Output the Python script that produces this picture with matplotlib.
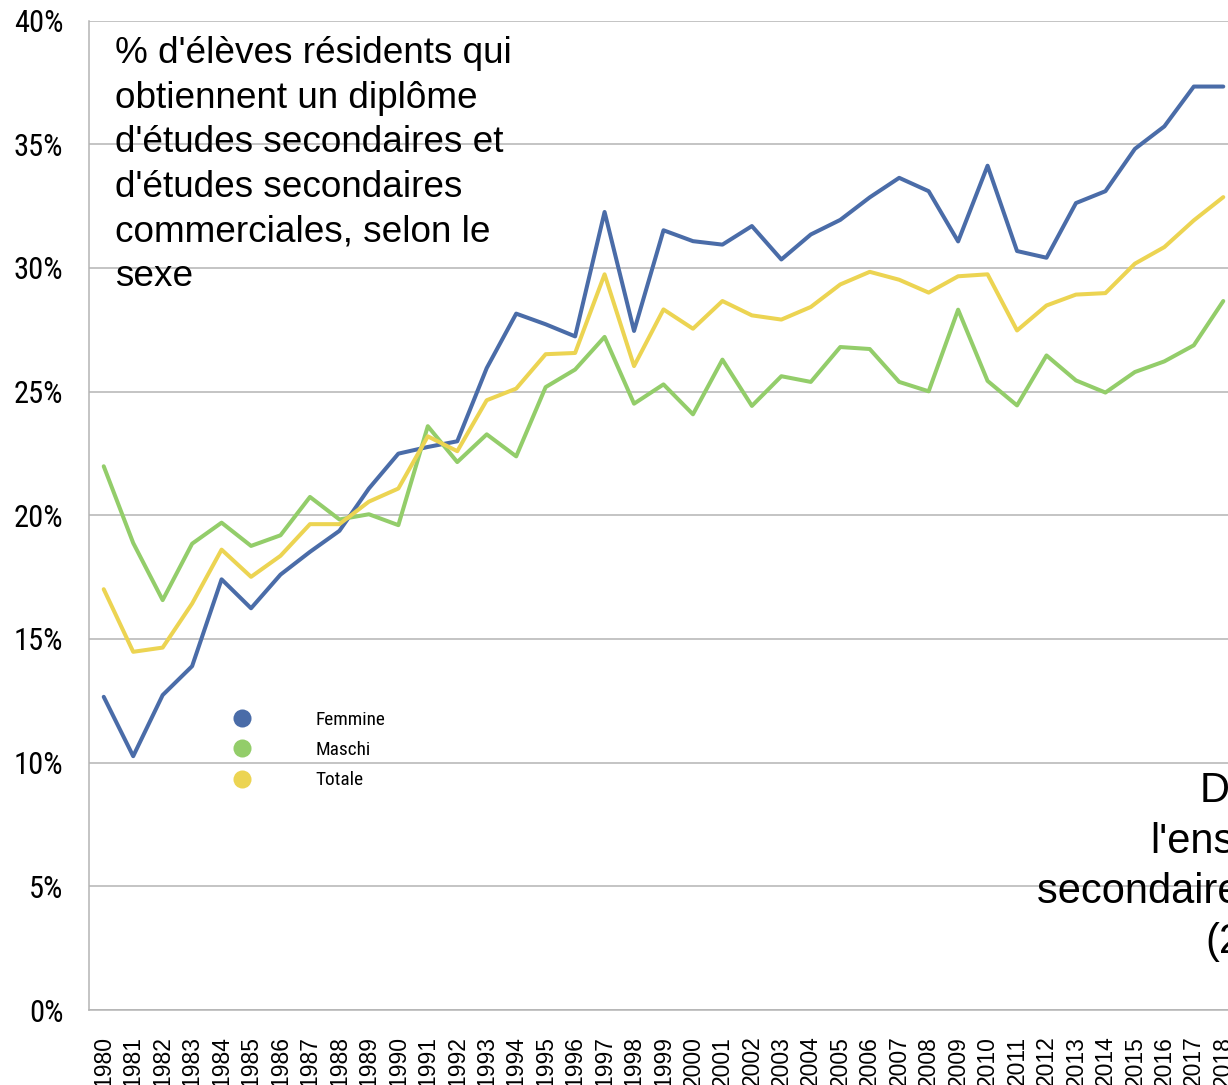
import matplotlib
matplotlib.use("Agg")
import matplotlib.pyplot as plt
from matplotlib import font_manager
from matplotlib.font_manager import FontProperties
from matplotlib.lines import Line2D
from matplotlib.ticker import FuncFormatter

years = [str(y) for y in range(1980, 2019)]

femmine = [12.66, 10.26, 12.73, 13.90, 17.41, 16.24, 17.60, 18.52, 19.37, 21.08,
           22.49, 22.76, 22.99, 25.95, 28.15, 27.72, 27.23, 32.26, 27.45, 31.52,
           31.08, 30.94, 31.69, 30.34, 31.35, 31.94, 32.85, 33.64, 33.10, 31.07,
           34.13, 30.68, 30.41, 32.62, 33.10, 34.81, 35.72, 37.33, 37.33]
maschi = [21.98, 18.88, 16.57, 18.85, 19.70, 18.76, 19.19, 20.74, 19.83, 20.04,
          19.60, 23.60, 22.15, 23.27, 22.38, 25.18, 25.89, 27.21, 24.51, 25.29,
          24.08, 26.29, 24.42, 25.62, 25.39, 26.80, 26.72, 25.39, 25.01, 28.31,
          25.43, 24.44, 26.46, 25.45, 24.96, 25.79, 26.22, 26.87, 28.66]
totale = [17.01, 14.48, 14.65, 16.43, 18.61, 17.51, 18.36, 19.64, 19.64, 20.55,
          21.08, 23.19, 22.59, 24.65, 25.12, 26.51, 26.56, 29.74, 26.03, 28.32,
          27.54, 28.66, 28.08, 27.91, 28.42, 29.33, 29.84, 29.52, 29.00, 29.66,
          29.74, 27.47, 28.48, 28.92, 28.98, 30.17, 30.84, 31.92, 32.86]

series_names = ["Femmine", "Maschi", "Totale"]
series_colors = ["#4a6ca8", "#93cd6a", "#ecd452"]

title_lines = ["% d'élèves résidents qui", "obtiennent un diplôme",
               "d'études secondaires et", "d'études secondaires",
               "commerciales, selon le", "sexe"]
source_lines = ["Données", "l'enseignement", "secondaire général", "(2019)"]

# ---- font selection: a narrow sans for ticks / legend if one is installed ----
def find_narrow():
    fl = font_manager.fontManager.ttflist
    prefs = [
        lambda f: f.name == "Liberation Sans Narrow" and f.weight in (400, "normal") and f.style == "normal",
        lambda f: "RobotoCondensed-Regular" in f.fname,
        lambda f: f.name == "Roboto Condensed" and f.weight in (400, "normal") and f.style == "normal",
        lambda f: "OpenSans_Condensed-Regular" in f.fname or "OpenSansCondensed-Regular" in f.fname,
        lambda f: f.fname.endswith("DejaVuSansCondensed.ttf"),
        lambda f: f.fname.endswith("Roboto-Regular.ttf"),
        lambda f: f.name == "Roboto" and f.weight in (400, "normal") and f.style == "normal",
    ]
    for p in prefs:
        for f in fl:
            try:
                if p(f):
                    return f.fname
            except Exception:
                pass
    return None

narrow_file = find_narrow()
names = {f.name for f in font_manager.fontManager.ttflist}
REG = "Liberation Sans" if "Liberation Sans" in names else "DejaVu Sans"

def narrow_fp(size):
    if narrow_file:
        return FontProperties(fname=narrow_file, size=size)
    return FontProperties(family="DejaVu Sans", stretch="condensed", size=size)

W, H = 1228, 1085
fig = plt.figure(figsize=(W / 100, H / 100), dpi=100)
fig.patch.set_facecolor("white")

left, top, bottom, right = 89, 20.5, 1010, 1238
ax = fig.add_axes([left / W, 1 - bottom / H, (right - left) / W, (bottom - top) / H])
ax.set_facecolor("white")

x = list(range(len(years)))
for vals, col in zip([femmine, maschi, totale], series_colors):
    ax.plot(x, vals, color=col, lw=2.9, solid_joinstyle="round", solid_capstyle="round", zorder=3)

ax.set_xlim(-0.5, len(years) - 0.5)
ax.set_ylim(0, 40)
ax.set_yticks(range(0, 41, 5))
ax.yaxis.set_major_formatter(FuncFormatter(lambda v, p: f"{int(v)}%"))
ax.set_xticks(x)
ax.set_xticklabels(years, rotation=90, fontfamily=REG, fontsize=16.5)
for lab in ax.get_yticklabels():
    lab.set_fontproperties(narrow_fp(22))
ax.tick_params(axis="y", length=0, pad=18.5, colors="black")
ax.tick_params(axis="x", length=0, pad=18.5, colors="black")
ax.grid(axis="y", color="#b4b4b4", lw=1.1, zorder=0)
ax.set_axisbelow(True)
for s in ["top", "right"]:
    ax.spines[s].set_visible(False)
for s in ["left", "bottom"]:
    ax.spines[s].set_color("#b4b4b4")
    ax.spines[s].set_linewidth(1.1)

# title text block
for i, line in enumerate(title_lines):
    fig.text(115 / W, 1 - (63 + 44.6 * i) / H, line, fontfamily=REG, fontsize=26.6,
             ha="left", va="baseline", color="black", zorder=5)

# legend
handles = [Line2D([], [], marker="o", ls="", markersize=13, color=c, markeredgewidth=0)
           for c in series_colors]
leg = fig.legend(handles, series_names, loc="upper left",
                 bbox_to_anchor=(232.5 / W, 1 - 711 / H), bbox_transform=fig.transFigure,
                 frameon=False, borderpad=0, borderaxespad=0, handlelength=1.0,
                 handletextpad=3.29, labelspacing=0.63,
                 prop=narrow_fp(13.9))

# source note (partly outside the figure, as in the reference)
src_x = [1200, 1150, 1037, 1205]
for i, (line, sx) in enumerate(zip(source_lines, src_x)):
    fig.text(sx / W, 1 - (802 + 50.5 * i) / H, line, fontfamily=REG, fontsize=30,
             ha="left", va="baseline", color="black")

fig.savefig("out.png", dpi=100)
